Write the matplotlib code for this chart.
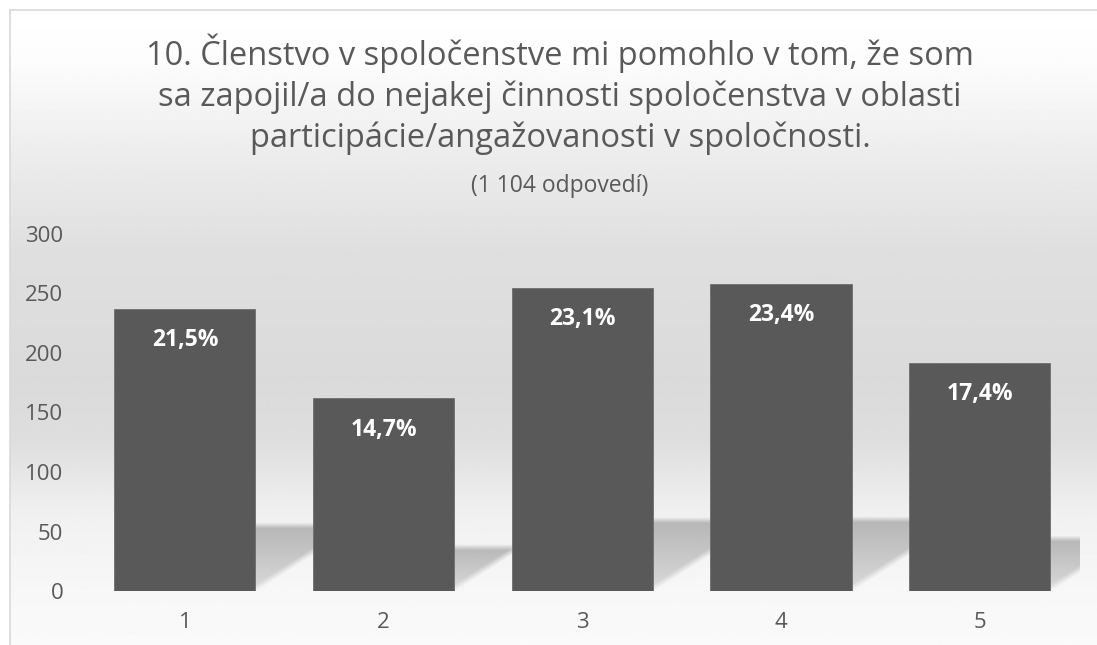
import numpy as np
import matplotlib
matplotlib.use('Agg')
import matplotlib.pyplot as plt

plt.rcParams['font.family'] = ['Open Sans', 'DejaVu Sans']

# data
categories = ['1', '2', '3', '4', '5']
counts = [237, 162, 255, 258, 192]
percent_labels = ['21,5%', '14,7%', '23,1%', '23,4%', '17,4%']
y_ticks = [0, 50, 100, 150, 200, 250, 300]
title_lines = ['10. Členstvo v spoločenstve mi pomohlo v tom, že som',
               'sa zapojil/a do nejakej činnosti spoločenstva v oblasti',
               'participácie/angažovanosti v spoločnosti.']
subtitle = '(1 104 odpovedí)'

W, H = 1097, 645
txt = '#595959'
bw = 0.71
fig = plt.figure(figsize=(W / 100, H / 100), dpi=100)
fig.patch.set_facecolor('white')

# background in pixel coordinates
bg = fig.add_axes([0, 0, 1, 1])
bg.set_xlim(0, W)
bg.set_ylim(H, 0)
bg.axis('off')

rows = np.linspace(10, H, 400)
col = np.interp(rows, [10, 60, 150, 250, 380, 440, 490, 520, 600, 645],
                [1.0, 0.99, 0.93, 0.875, 0.855, 0.87, 0.92, 0.945, 0.972, 0.978])
bg.imshow(np.repeat(col[:, None], 2, axis=1), cmap='gray', vmin=0, vmax=1,
          extent=(10, W, H, 10), aspect='auto', interpolation='bilinear')

# chart border
bg.plot([9.5, 9.5], [H, 9.5], color='#d9d9d9', lw=1.2)
bg.plot([9.5, W], [9.5, 9.5], color='#d9d9d9', lw=1.2)

# titles
for line, base in zip(title_lines, [65, 106, 147]):
    fig.text(560 / W, 1 - base / H, line, ha='center', va='baseline',
             fontsize=23.5, color=txt)
fig.text(560 / W, 1 - 192 / H, subtitle, ha='center', va='baseline',
         fontsize=16.5, color=txt)

# plot area
ax = fig.add_axes([85.6 / W, 54 / H, (1079 - 85.6) / W, 357 / H])
ax.patch.set_alpha(0)
x = np.arange(1, len(categories) + 1)
ax.bar(x, counts, width=bw, color='#595959', edgecolor='#6e6e6e', linewidth=0.6, zorder=3)
ax.set_xlim(0.5, len(categories) + 0.5)
ax.set_ylim(0, 300)
ax.set_xticks(x)
ax.set_xticklabels(categories)
ax.set_yticks(y_ticks)
for s in ax.spines.values():
    s.set_visible(False)
ax.tick_params(axis='y', length=0, pad=16, labelsize=16, labelcolor=txt)
ax.tick_params(axis='x', length=0, pad=15, labelsize=16, labelcolor=txt)

for xi, v, lbl in zip(x, counts, percent_labels):
    ax.annotate(lbl, (xi, v), xytext=(0, -27), textcoords='offset points',
                ha='center', va='baseline', color='white', fontweight='bold',
                fontsize=16.5, zorder=4)

# perspective shadows cast by the bars onto the floor
ax_l = ax.transData.transform((0.5, 0))[0]
ax_r = ax.transData.transform((len(categories) + 0.5, 0))[0]
floor = H - ax.transData.transform((0.5, 0))[1]
gx, gy = np.meshgrid(np.arange(ax_l, ax_r), np.arange(floor - 110, floor))
alpha = np.zeros(gx.shape)
for xi, v in zip(x, counts):
    left = ax.transData.transform((xi - bw / 2, 0))[0]
    right = ax.transData.transform((xi + bw / 2, 0))[0]
    bar_px = ax.transData.transform((xi, v))[1] - ax.transData.transform((xi, 0))[1]
    hs = 0.245 * bar_px
    sh = 1.56 * hs
    t = (floor - gy) / hs
    vert = np.clip((1 - t) * hs / 6, 0, 1) * (0.45 + 0.55 * np.clip(t, 0, 1))
    edge_r = np.clip(((right + sh * t) - gx) / 12, 0, 1)
    edge_l = np.clip((gx - (left + sh * t)) / 4, 0, 1)
    alpha = np.maximum(alpha, 0.6 * vert * edge_r * edge_l)
rgba = np.zeros(gx.shape + (4,))
rgba[..., :3] = 0.55
rgba[..., 3] = alpha
bg.imshow(rgba, extent=(ax_l, ax_r, floor, floor - 110), aspect='auto',
          interpolation='bilinear')

fig.savefig('out.png', dpi=100)
